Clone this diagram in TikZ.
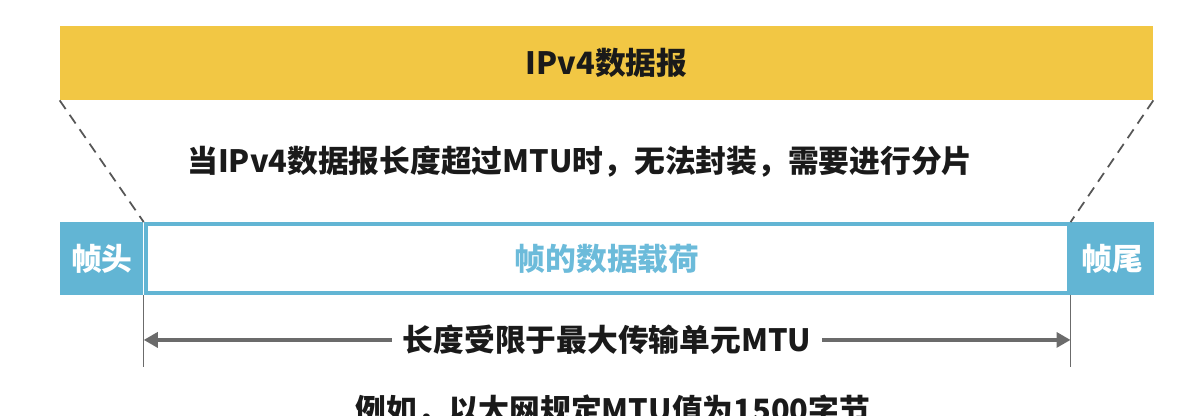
\documentclass[tikz,border=0pt]{standalone}
\usepackage{fontspec}
\setmainfont{Noto Sans CJK SC}
\usepackage{tikz}
\usetikzlibrary{arrows.meta,positioning}
\definecolor{dgyellow}{HTML}{F2C744}
\definecolor{frblue}{HTML}{62B5D4}
\definecolor{pltext}{HTML}{6CBBDA}
\definecolor{dimgray}{HTML}{6B6B6B}
\definecolor{txtblack}{HTML}{1A1A1A}

\begin{document}
\begin{tikzpicture}[
  every node/.style={font=\fontsize{17.5}{20}\selectfont\bfseries,text=txtblack,
    inner sep=0pt, align=center},
  fld/.style={fill=frblue,text=white,minimum width=1.66cm,minimum height=1.46cm},
  guide/.style={draw=dimgray!80!black,line width=1pt,dash pattern=on 6pt off 4pt},
  dimline/.style={draw=dimgray,line width=0.9pt},
  dimarrow/.style={draw=dimgray,line width=2.2pt,
    {Triangle[length=8pt,width=8.5pt]}-{Triangle[length=8pt,width=8.5pt]}}]
\useasboundingbox (0,0) rectangle (23.88,-8.32);
\node[fill=dgyellow,minimum width=21.86cm,minimum height=1.48cm] (dgram) at (12.13,-1.26) {IPv4数据报};
\node (note) at (11.6,-3.24) {当IPv4数据报长度超过MTU时，无法封装，需要进行分片};
\node[fld,anchor=west] (head) at (1.2,-5.17) {帧头};
\node[right=0pt of head,draw=frblue,line width=2.2pt,text=pltext,
  minimum width=18.46cm,minimum height=1.38cm] (payload) {帧的数据载荷};
\node[fld,right=0pt of payload] (tail) {帧尾};
\draw[guide] (dgram.south west) -- (payload.north west);
\draw[guide] (dgram.south east) -- (payload.north east);
\coordinate (lend) at ([yshift=-1.44cm]payload.south west);
\coordinate (rend) at ([yshift=-1.44cm]payload.south east);
\draw[dimline] (payload.south west) -- (lend);
\draw[dimline] (payload.south east) -- (rend);
\coordinate (la) at ([yshift=-0.9cm]payload.south west);
\coordinate (ra) at ([yshift=-0.9cm]payload.south east);
\draw[dimarrow] (la) -- node[fill=white,inner xsep=6pt,inner ysep=2pt] (limit) {长度受限于最大传输单元MTU} (ra);
\node (example) at (12.26,-8.22) {例如，以太网规定MTU值为1500字节};
\end{tikzpicture}
\end{document}
